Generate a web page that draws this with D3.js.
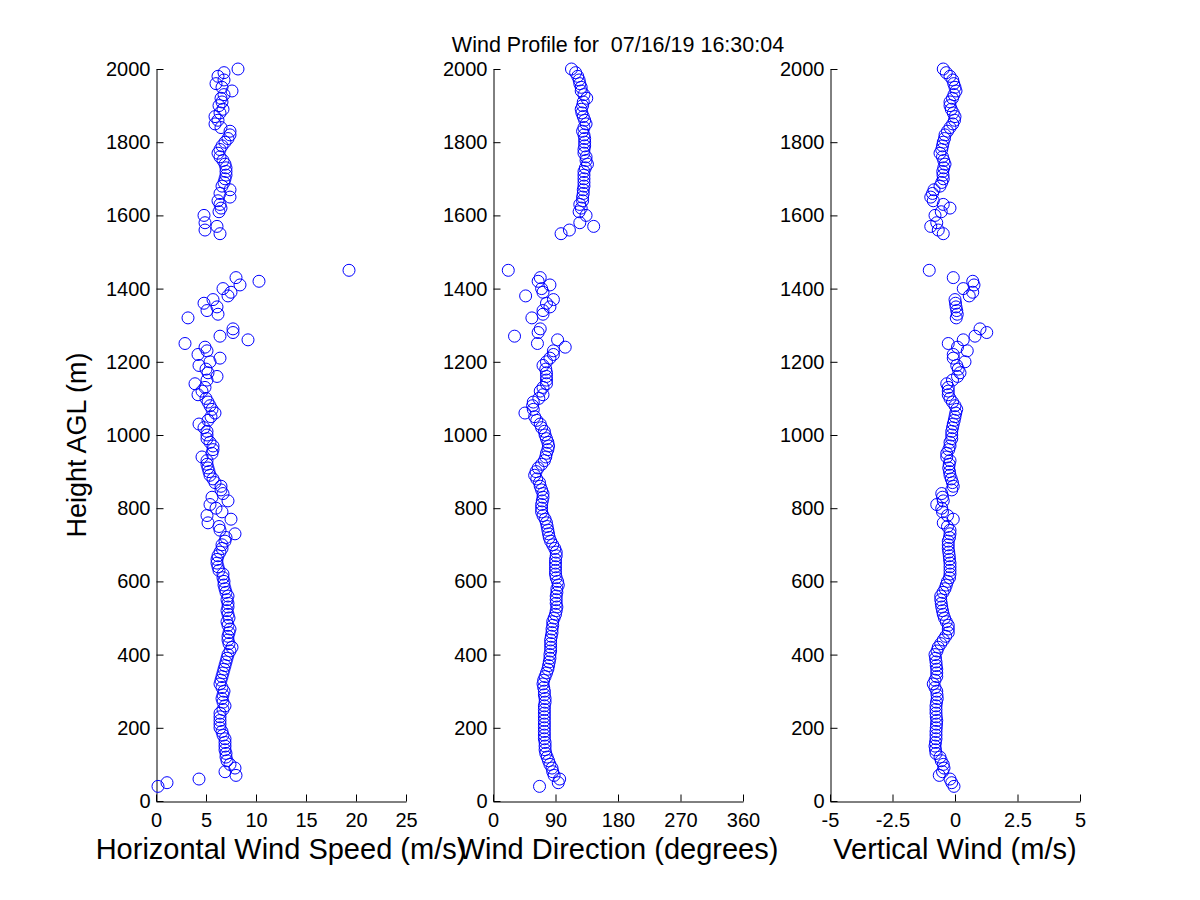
<!DOCTYPE html>
<html>
<head>
<meta charset="utf-8">
<script src="https://cdn.jsdelivr.net/npm/d3@7"></script>
<style>
  html, body { margin: 0; padding: 0; background: #fff; }
  svg { display: block; font-family: "Liberation Sans", Arial, Helvetica, sans-serif; }
  .tick text { font-size: 20px; fill: #000; }
  .tick line, .domain { stroke: #000; stroke-width: 1; }
</style>
</head>
<body>
<svg id="chart" width="1200" height="900"></svg>
<script>
// ---------------- data ----------------
const title = "Wind Profile for  07/16/19 16:30:04";
const yLabel = "Height AGL (m)";
const xLabels = ["Horizontal Wind Speed (m/s)", "Wind Direction (degrees)", "Vertical Wind (m/s)"];

const heightTicks = [0, 200, 400, 600, 800, 1000, 1200, 1400, 1600, 1800, 2000];
const speedTicks = [0, 5, 10, 15, 20, 25];
const dirTicks = [0, 90, 180, 270, 360];
const vertTicks = [-5, -2.5, 0, 2.5, 5];

const heights = [
  40,50,60,70,80,90,100,110,120,130,
  140,150,160,170,180,190,200,210,220,230,
  240,250,260,270,280,290,300,310,320,330,
  340,350,360,370,380,390,400,410,420,430,
  440,450,460,470,480,490,500,510,520,530,
  540,550,560,570,580,590,600,610,620,630,
  640,650,660,670,680,690,700,710,720,730,
  740,750,760,770,780,790,800,810,820,830,
  840,850,860,870,880,890,900,910,920,930,
  940,950,960,970,980,990,1000,1010,1020,1030,
  1040,1050,1060,1070,1080,1090,1100,1110,1120,1130,
  1140,1150,1160,1170,1180,1190,1200,1210,1220,1230,
  1240,1250,1260,1270,1280,1290,1300,1310,1320,1330,
  1340,1350,1360,1370,1380,1390,1400,1410,1420,1430,
  1440,1450,1460,1470,1480,1490,1500,1510,1520,1530,
  1540,1550,1560,1570,1580,1590,1600,1610,1620,1630,
  1640,1650,1660,1670,1680,1690,1700,1710,1720,1730,
  1740,1750,1760,1770,1780,1790,1800,1810,1820,1830,
  1840,1850,1860,1870,1880,1890,1900,1910,1920,1930,
  1940,1950,1960,1970,1980,1990,2000
];

const speed = [
  0.2,1.1,4.3,8.0,6.9,7.9,7.4,7.1,7.0,7.0,
  6.9,6.9,6.9,6.9,6.7,6.6,6.4,6.4,6.4,6.4,
  6.4,6.7,6.9,6.7,6.6,6.7,6.8,6.6,6.4,6.5,
  6.6,6.7,6.8,6.9,7.0,7.1,7.2,7.4,7.6,7.3,
  7.2,7.2,7.3,7.4,7.2,7.1,7.3,7.2,7.1,7.2,
  7.2,7.1,7.2,7.0,6.9,6.8,6.8,6.7,6.7,6.3,
  6.2,6.1,6.1,6.2,6.4,6.6,6.6,6.9,7.0,7.9,
  6.4,6.3,5.2,7.5,5.1,6.6,6.0,5.4,7.2,5.6,
  6.7,6.5,6.5,5.9,5.7,5.4,5.3,5.2,5.1,5.1,
  4.6,5.6,5.7,5.7,5.4,5.1,5.1,5.1,4.8,4.3,
  5.2,5.5,5.9,5.6,5.4,5.2,5.0,4.2,4.6,4.9,
  3.9,5.1,6.1,5.2,5.0,4.3,5.4,6.4,4.2,5.1,
  4.9,2.9,9.2,6.4,7.7,7.7,null,null,3.2,6.2,
  5.1,6.1,4.8,5.7,7.2,7.5,6.7,8.4,10.3,8.0,
  null,19.3,null,null,null,null,null,null,null,null,
  null,6.4,4.9,6.1,4.9,null,4.8,6.3,6.5,6.4,
  6.2,7.4,6.4,7.4,6.6,6.8,6.9,7.0,7.0,7.0,
  6.9,6.7,6.4,6.2,6.4,6.6,6.9,7.2,7.4,7.4,
  6.5,5.9,6.2,5.9,6.4,6.7,6.3,6.6,6.5,6.8,
  7.6,6.6,6.0,6.8,6.2,6.8,8.2
];

const direction = [
  67,94,96,88,86,85,82,80,78,76,
  75,75,75,74,74,74,74,74,74,74,
  74,74,74,75,75,74,74,73,72,73,
  75,77,79,80,81,82,82,83,83,83,
  83,84,85,85,86,86,88,90,91,92,
  91,91,91,92,92,94,93,91,90,90,
  90,90,90,91,91,89,86,83,81,80,
  79,78,77,75,72,70,70,70,71,72,
  72,70,68,67,63,60,62,65,70,74,
  76,77,79,80,79,77,75,74,70,68,
  63,60,46,58,57,58,66,72,68,72,
  77,77,77,77,76,72,77,82,87,87,
  104,64,93,31,65,68,null,null,56,72,
  72,82,77,87,47,72,70,82,65,68,
  null,22,null,null,null,null,null,null,null,null,
  null,98,110,145,125,null,134,124,127,125,
  129,129,130,130,131,131,131,131,131,133,
  136,134,134,131,131,132,132,132,131,129,
  131,134,132,130,128,127,129,130,135,131,
  127,127,125,124,122,119,113
];

const vertical = [
  -0.04,-0.13,-0.2,-0.63,-0.5,-0.44,-0.47,-0.55,-0.6,-0.76,
  -0.78,-0.8,-0.78,-0.76,-0.76,-0.76,-0.75,-0.74,-0.73,-0.75,
  -0.76,-0.76,-0.76,-0.74,-0.71,-0.72,-0.73,-0.8,-0.87,-0.8,
  -0.73,-0.73,-0.73,-0.75,-0.76,-0.78,-0.8,-0.72,-0.67,-0.57,
  -0.47,-0.37,-0.27,-0.27,-0.27,-0.35,-0.42,-0.47,-0.5,-0.53,
  -0.55,-0.57,-0.57,-0.48,-0.4,-0.35,-0.3,-0.22,-0.2,-0.2,
  -0.2,-0.2,-0.22,-0.23,-0.25,-0.27,-0.27,-0.27,-0.22,-0.2,
  -0.2,-0.3,-0.47,-0.07,-0.3,-0.5,-0.53,-0.73,-0.47,-0.5,
  -0.53,-0.13,-0.07,-0.1,-0.15,-0.2,-0.22,-0.25,-0.23,-0.2,
  -0.33,-0.33,-0.25,-0.2,-0.2,-0.13,-0.13,-0.13,-0.1,-0.07,
  -0.03,0,0.03,0.07,0,-0.1,-0.2,-0.27,-0.27,-0.27,
  -0.33,-0.1,0.1,0.2,0.13,0.07,0.4,-0.07,-0.07,0.49,
  0.1,-0.27,0.33,0.8,1.27,1.0,null,null,0.05,0.09,
  0.07,0.04,0.02,0,0.57,0.71,0.33,0.76,0.71,-0.07,
  null,-1.03,null,null,null,null,null,null,null,null,
  null,-0.47,-0.67,-0.97,-0.73,null,-0.8,-0.55,-0.2,-0.47,
  -0.87,-0.97,-0.9,-0.84,-0.6,-0.53,-0.47,-0.48,-0.49,-0.45,
  -0.4,-0.45,-0.5,-0.6,-0.53,-0.5,-0.47,-0.42,-0.4,-0.3,
  -0.2,-0.09,-0.02,0,-0.07,-0.15,-0.2,-0.2,-0.1,-0.04,
  0.04,0,-0.05,-0.09,-0.2,-0.35,-0.47
];

// ---------------- layout ----------------
const svg = d3.select("#chart");
const yTop = 69, yBottom = 801;
const panels = [
  { x0: 156, x1: 406, domain: [0, 25],   ticks: speedTicks, values: speed,     label: xLabels[0] },
  { x0: 493, x1: 743, domain: [0, 360],  ticks: dirTicks,   values: direction, label: xLabels[1] },
  { x0: 830, x1: 1080, domain: [-5, 5],  ticks: vertTicks,  values: vertical,  label: xLabels[2] }
];

const y = d3.scaleLinear().domain([0, 2000]).range([yBottom, yTop]);

panels.forEach(p => {
  const x = d3.scaleLinear().domain(p.domain).range([p.x0, p.x1]);
  const g = svg.append("g");

  g.append("g")
    .attr("transform", `translate(0,${yBottom + 0.5})`)
    .call(d3.axisBottom(x).tickValues(p.ticks).tickSizeInner(-7).tickSizeOuter(0)
      .tickPadding(11).tickFormat(d => String(d)))
    .call(s => s.selectAll("text").attr("font-family", null));

  g.append("g")
    .attr("transform", `translate(${p.x0 + 0.5},0)`)
    .call(d3.axisLeft(y).tickValues(heightTicks).tickSizeInner(-7).tickSizeOuter(0)
      .tickPadding(6).tickFormat(d => String(d)))
    .call(s => s.selectAll("text").attr("font-family", null));

  const pts = heights.map((h, i) => ({ h, v: p.values[i] })).filter(d => d.v !== null);
  g.append("g").selectAll("circle").data(pts).join("circle")
    .attr("cx", d => x(d.v))
    .attr("cy", d => y(d.h))
    .attr("r", 6)
    .attr("fill", "none")
    .attr("stroke", "#0000ff")
    .attr("stroke-width", 1);

  g.append("text")
    .attr("x", (p.x0 + p.x1) / 2)
    .attr("y", 859)
    .attr("text-anchor", "middle")
    .attr("font-size", 29)
    .attr("fill", "#000")
    .text(p.label);
});

svg.append("text")
  .attr("transform", `translate(86,445) rotate(-90)`)
  .attr("text-anchor", "middle")
  .attr("font-size", 27)
  .attr("fill", "#000")
  .text(yLabel);

svg.append("text")
  .attr("x", 618)
  .attr("y", 52)
  .attr("text-anchor", "middle")
  .attr("font-size", 21.5)
  .attr("fill", "#000")
  .style("white-space", "pre")
  .text(title);
</script>
</body>
</html>
